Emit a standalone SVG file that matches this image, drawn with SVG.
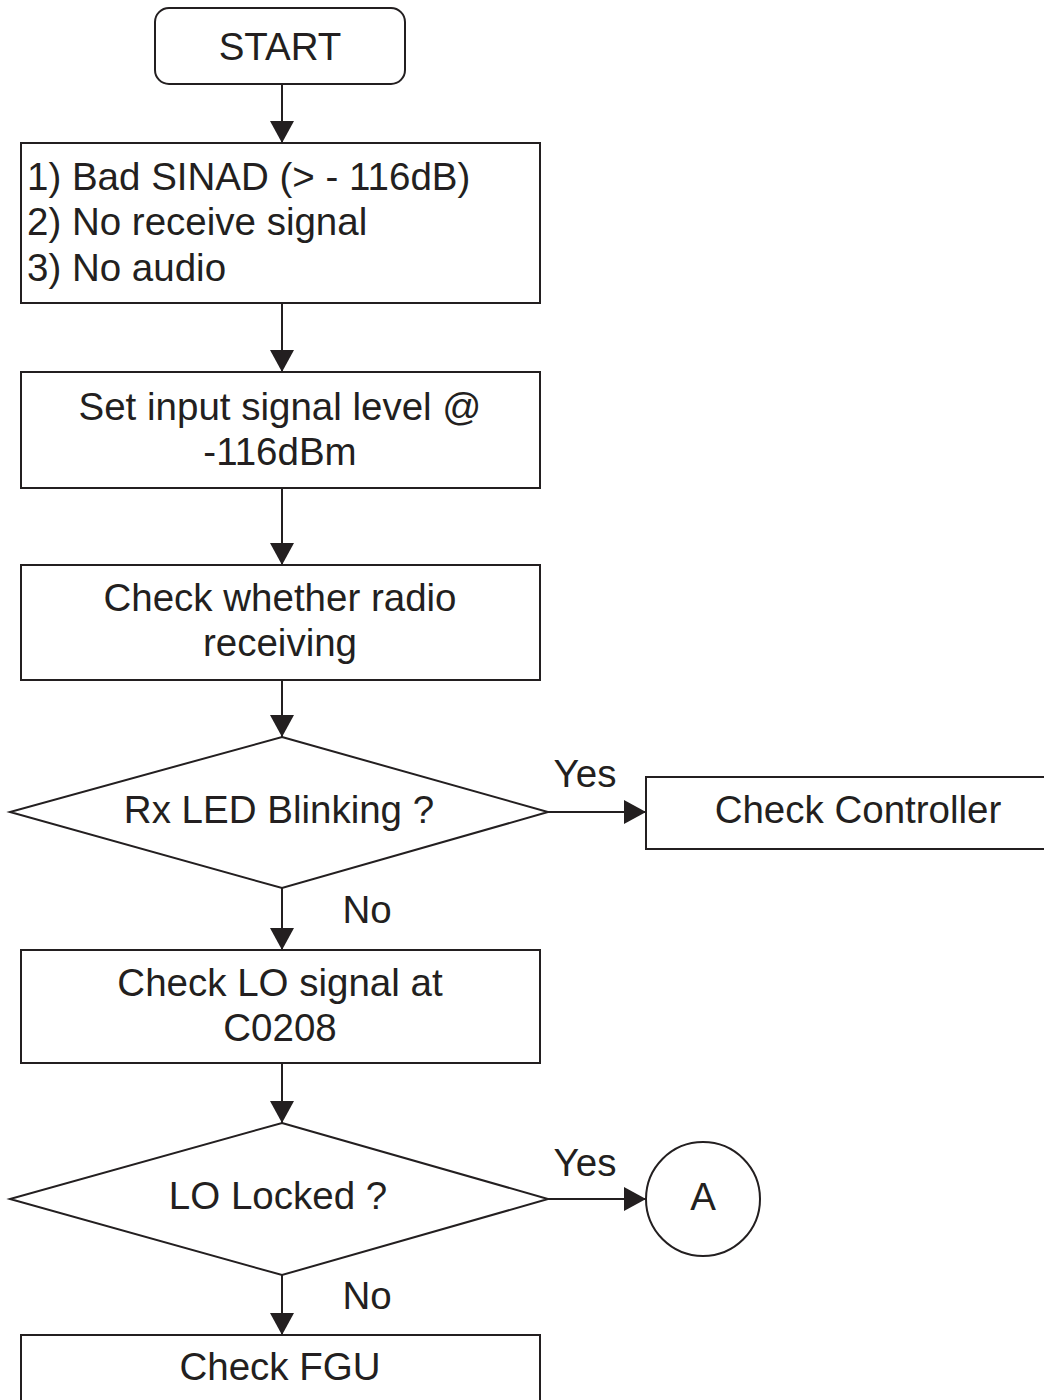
<svg xmlns="http://www.w3.org/2000/svg" width="1044" height="1400" viewBox="0 0 1044 1400">
<defs>
<style>
.s{fill:#fff;stroke:#231f20;stroke-width:2}
.t{font-family:"Liberation Sans",Arial,sans-serif;font-size:38.5px;fill:#231f20}
.m{text-anchor:middle}
.c{fill:none;stroke:#231f20;stroke-width:2}
.a{fill:#231f20}
</style>
</defs>
<rect width="1044" height="1400" fill="#fff"/>
<g id="connectors">
<path class="c" d="M282,84 V143"/>
<path class="a" d="M270,121 L294,121 L282,143 Z"/>
<path class="c" d="M282,303 V372"/>
<path class="a" d="M270,350 L294,350 L282,372 Z"/>
<path class="c" d="M282,488 V565"/>
<path class="a" d="M270,543 L294,543 L282,565 Z"/>
<path class="c" d="M282,680 V737"/>
<path class="a" d="M270,715 L294,715 L282,737 Z"/>
<path class="c" d="M548,812 H646"/>
<path class="a" d="M624,800 L624,824 L646,812 Z"/>
<text class="t m" x="585" y="787">Yes</text>
<path class="c" d="M282,888 V950"/>
<path class="a" d="M270,928 L294,928 L282,950 Z"/>
<text class="t m" x="367" y="923">No</text>
<path class="c" d="M282,1063 V1123"/>
<path class="a" d="M270,1101 L294,1101 L282,1123 Z"/>
<path class="c" d="M548,1199 H646"/>
<path class="a" d="M624,1187 L624,1211 L646,1199 Z"/>
<text class="t m" x="585" y="1176">Yes</text>
<path class="c" d="M282,1275 V1335"/>
<path class="a" d="M270,1313 L294,1313 L282,1335 Z"/>
<text class="t m" x="367" y="1309">No</text>
</g>
<g id="start">
<rect class="s" x="155" y="8" width="250" height="76" rx="14"/>
<text class="t m" x="280" y="60">START</text>
</g>
<g id="symptoms">
<rect class="s" x="21" y="143" width="519" height="160"/>
<text class="t" x="27" y="190">1) Bad SINAD (&gt; - 116dB)</text>
<text class="t" x="27" y="235">2) No receive signal</text>
<text class="t" x="27" y="281">3) No audio</text>
</g>
<g id="setlevel">
<rect class="s" x="21" y="372" width="519" height="116"/>
<text class="t m" x="280" y="420">Set input signal level @</text>
<text class="t m" x="280" y="465">-116dBm</text>
</g>
<g id="checkrecv">
<rect class="s" x="21" y="565" width="519" height="115"/>
<text class="t m" x="280" y="611">Check whether radio</text>
<text class="t m" x="280" y="656">receiving</text>
</g>
<g id="rxled">
<polygon class="s" points="282,737 548,812 282,888 10,812"/>
<text class="t m" x="279" y="823">Rx LED Blinking ?</text>
</g>
<g id="controller">
<rect class="s" x="646" y="777" width="400" height="72"/>
<text class="t m" x="858" y="823">Check Controller</text>
</g>
<g id="checklo">
<rect class="s" x="21" y="950" width="519" height="113"/>
<text class="t m" x="280" y="996">Check LO signal at</text>
<text class="t m" x="280" y="1041">C0208</text>
</g>
<g id="lolocked">
<polygon class="s" points="282,1123 548,1199 282,1275 10,1199"/>
<text class="t m" x="278" y="1209">LO Locked ?</text>
</g>
<g id="connA">
<circle class="s" cx="703" cy="1199" r="57"/>
<text class="t m" x="703" y="1210">A</text>
</g>
<g id="fgu">
<rect class="s" x="21" y="1335" width="519" height="80"/>
<text class="t m" x="280" y="1380">Check FGU</text>
</g>
</svg>
